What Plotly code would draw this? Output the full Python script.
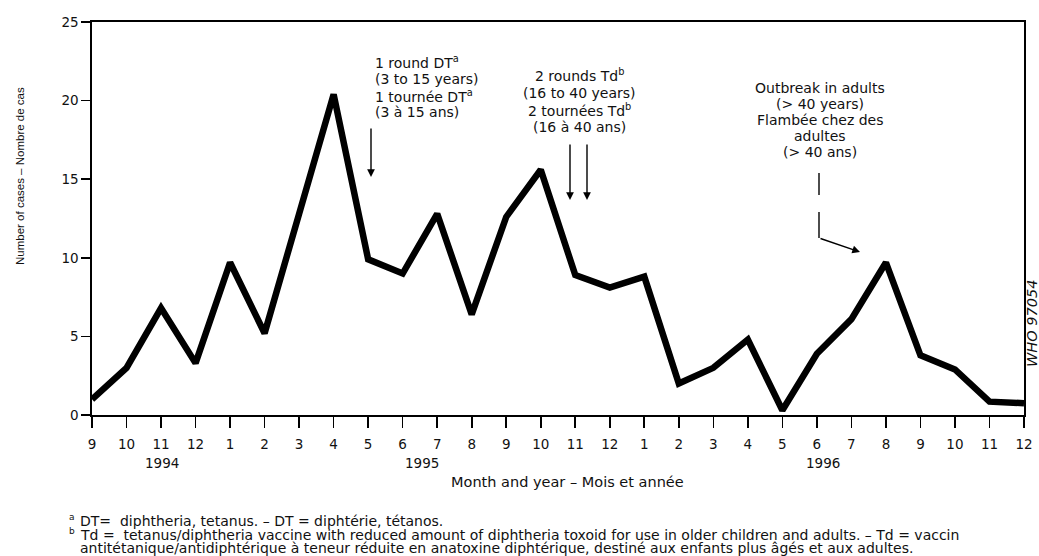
import plotly.graph_objects as go

months = ["9", "10", "11", "12", "1", "2", "3", "4", "5", "6", "7", "8", "9", "10",
          "11", "12", "1", "2", "3", "4", "5", "6", "7", "8", "9", "10", "11", "12"]
cases = [1.0, 3.0, 6.8, 3.3, 9.7, 5.2, 12.8, 20.4, 9.9, 9.0, 12.8, 6.4, 12.6, 15.6,
         8.9, 8.1, 8.8, 2.0, 3.0, 4.8, 0.3, 3.9, 6.1, 9.7, 3.8, 2.9, 0.85, 0.75]
years = ["1994", "1995", "1996"]
year_pos = [2.03, 9.56, 21.18]
y_ticks = [0, 5, 10, 15, 20, 25]

FONT = "DejaVu Sans, Verdana, sans-serif"
NARROW = "Liberation Sans, Arial, sans-serif"
x_idx = list(range(len(months)))

# plot area in page pixels: x 92..1024, y 22..415
def PX(px):
    return (px - 92) / (932 / 27)

def PY(py):
    return (415 - py) / (393 / 25)

def PPX(px):
    return (px - 92) / 932

def PPY(py):
    return (415 - py) / 393

fig = go.Figure()
fig.add_trace(go.Scatter(x=x_idx, y=cases, mode="lines",
                         line=dict(color="black", width=6.5), hoverinfo="skip",
                         showlegend=False))

fig.update_layout(
    width=1039, height=556,
    margin=dict(l=92, r=15, t=22, b=141, autoexpand=False),
    paper_bgcolor="white", plot_bgcolor="white",
    font=dict(family=FONT, size=13.5, color="#111"),
    showlegend=False,
)
fig.update_xaxes(range=[0, 27], tickvals=x_idx, ticktext=months, automargin=False,
                 showgrid=False, zeroline=False, showline=True, linecolor="black",
                 linewidth=1.6, mirror=True, ticks="outside", ticklen=11,
                 tickcolor="black", tickwidth=1.6, ticklabelstandoff=5,
                 tickfont=dict(size=13.5, family=FONT))
fig.update_yaxes(range=[0, 25], tickvals=y_ticks, automargin=False,
                 showgrid=False, zeroline=False, showline=True, linecolor="black",
                 linewidth=1.6, mirror=True, ticks="outside", ticklen=9,
                 tickcolor="black", tickwidth=1.6,
                 tickfont=dict(size=13.5, family=FONT))

ann = []
# Year labels
for yr, xp in zip(years, year_pos):
    ann.append(dict(x=xp, y=PPY(463), xref="x", yref="paper", text=yr,
                    showarrow=False, font=dict(size=13.5), xanchor="center", yanchor="middle"))
# Axis titles
ann.append(dict(x=PPX(567), y=PPY(482), xref="paper", yref="paper",
                text="Month and year – Mois et année", showarrow=False,
                font=dict(size=14.5), xanchor="center", yanchor="middle"))
ann.append(dict(x=PPX(20), y=PPY(176), xref="paper", yref="paper",
                text="Number of cases – Nombre de cas", showarrow=False,
                textangle=-90, font=dict(size=11.5, family=NARROW),
                xanchor="center", yanchor="middle"))
# WHO label
ann.append(dict(x=PPX(1032), y=PPY(324), xref="paper", yref="paper",
                text="<i>WHO 97054</i>", showarrow=False, textangle=-90,
                font=dict(size=14.5, family=FONT), xanchor="center", yanchor="middle"))

# Event texts, one annotation per line
def lines(texts, px, ys, anchor):
    for t, py in zip(texts, ys):
        ann.append(dict(x=PX(px), y=PY(py), xref="x", yref="y", showarrow=False,
                        text=t, xanchor=anchor, yanchor="middle", font=dict(size=14)))

lines(["1 round DT<sup>a</sup>", "(3 to 15 years)", "1 tournée DT<sup>a</sup>", "(3 à 15 ans)"],
      373, [62, 79, 96, 112], "left")
lines(["2 rounds Td<sup>b</sup>", "(16 to 40 years)", "2 tournées Td<sup>b</sup>", "(16 à 40 ans)"],
      579, [75, 93, 110, 127], "center")
lines(["Outbreak in adults", "(> 40 years)", "Flambée chez des", "adultes", "(> 40 ans)"],
      820, [88, 104, 120, 136, 152], "center")

# Arrows
def arrow(x0, y0, x1, y1):
    return dict(x=x1, y=y1, ax=x0, ay=y0, xref="x", yref="y", axref="x", ayref="y",
                text="", showarrow=True, arrowhead=2, arrowsize=1.1, arrowwidth=1.4,
                arrowcolor="black")

ann.append(arrow(PX(371), PY(127), PX(371), PY(177)))
ann.append(arrow(PX(570), PY(143), PX(570), PY(200)))
ann.append(arrow(PX(587), PY(143), PX(587), PY(200)))
ann.append(arrow(PX(819), PY(238), PX(860), PY(252)))

fig.add_shape(type="line", x0=PX(819), x1=PX(819), y0=PY(173), y1=PY(195),
              line=dict(color="black", width=1.4))
fig.add_shape(type="line", x0=PX(819), x1=PX(819), y0=PY(212), y1=PY(238),
              line=dict(color="black", width=1.4))

# Footnotes
def note(text, px, py, size):
    ann.append(dict(x=PPX(px), y=PPY(py), xref="paper", yref="paper", showarrow=False,
                    xanchor="left", yanchor="middle", align="left", text=text,
                    font=dict(size=size)))

note("a", 67, 517, 9)
note("b", 67, 531, 9)
note("DT=  diphtheria, tetanus. – DT = diphtérie, tétanos.", 78, 521, 14)
note("Td =  tetanus/diphtheria vaccine with reduced amount of diphtheria toxoid for use in older children and adults. – Td = vaccin", 78, 535, 14)
note("antitétanique/antidiphtérique à teneur réduite en anatoxine diphtérique, destiné aux enfants plus âgés et aux adultes.", 78, 548, 14)

fig.update_layout(annotations=ann)
fig.write_html("out.html", config={"displayModeBar": False, "staticPlot": True},
               post_script="document.body.style.margin='0';document.body.style.overflow='hidden';")
